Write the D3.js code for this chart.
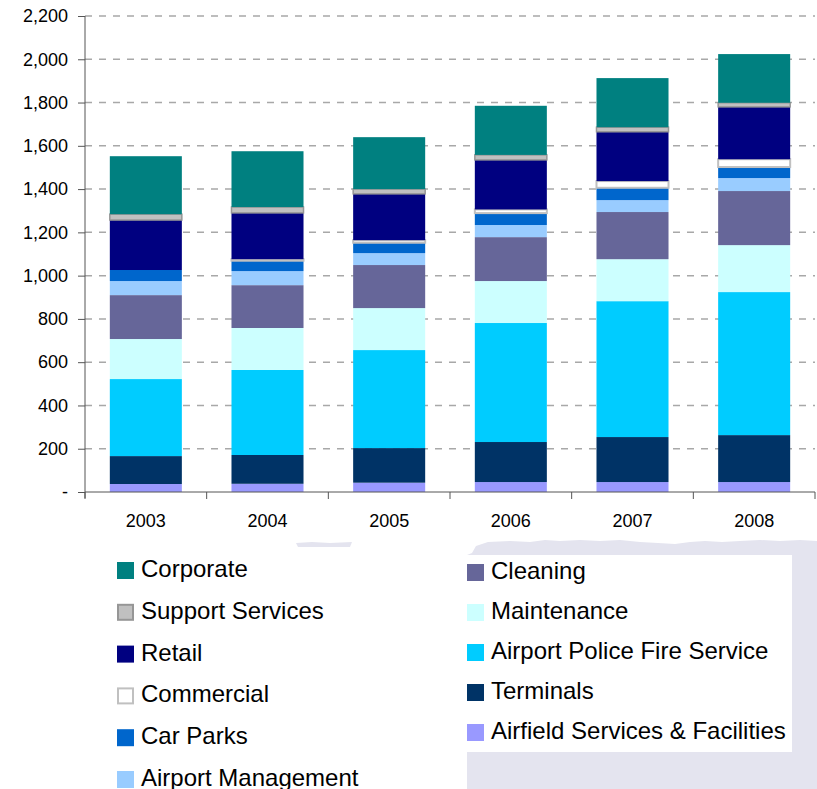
<!DOCTYPE html>
<html>
<head>
<meta charset="utf-8">
<script src="https://cdn.jsdelivr.net/npm/d3@7"></script>
<style>
  body { margin: 0; background: #fff; }
  svg text { font-family: "Liberation Sans", Arial, sans-serif; fill: #000; }
</style>
</head>
<body>
<svg id="chart" width="817" height="789"></svg>
<script>
// Years on the category axis
const years = ["2003", "2004", "2005", "2006", "2007", "2008"];

// Cost per business unit, stacked bottom to top
const airfield    = [37, 38, 43, 46, 46, 46];
const terminals   = [129, 133, 160, 185, 208, 217];
const policeFire  = [356, 393, 453, 550, 628, 661];
const maintenance = [185, 194, 194, 194, 194, 217];
const cleaning    = [203, 198, 199, 203, 218, 250];
const airportMgmt = [65, 65, 55, 56, 55, 60];
const carParks    = [51, 48, 48, 55, 57, 51];
const commercial  = [0, 7, 12, 17, 31, 36];
const retail      = [231, 214, 214, 229, 228, 242];
const support     = [27, 27, 22, 23, 21, 19];
const corporate   = [268, 258, 240, 227, 227, 225];

const yTicks = [0, 200, 400, 600, 800, 1000, 1200, 1400, 1600, 1800, 2000, 2200];

// Series in stacking order (bottom first)
const series = [
  { key: "Airfield Services & Facilities", values: airfield,    fill: "#9999ff" },
  { key: "Terminals",                      values: terminals,   fill: "#003366" },
  { key: "Airport Police Fire Service",    values: policeFire,  fill: "#00ccff" },
  { key: "Maintenance",                    values: maintenance, fill: "#ccffff" },
  { key: "Cleaning",                       values: cleaning,    fill: "#666699" },
  { key: "Airport Management",             values: airportMgmt, fill: "#99ccff" },
  { key: "Car Parks",                      values: carParks,    fill: "#0066cc" },
  { key: "Commercial",                     values: commercial,  fill: "#ffffff", stroke: "#c0c0c0", sw: 2 },
  { key: "Retail",                         values: retail,      fill: "#000080" },
  { key: "Support Services",               values: support,     fill: "#c0c0c0", stroke: "#969696", sw: 1.5 },
  { key: "Corporate",                      values: corporate,   fill: "#008080" }
];

// Legend columns, top to bottom
const legendLeft  = ["Corporate", "Support Services", "Retail", "Commercial", "Car Parks", "Airport Management"];
const legendRight = ["Cleaning", "Maintenance", "Airport Police Fire Service", "Terminals", "Airfield Services & Facilities"];

const svg = d3.select("#chart");
const byKey = Object.fromEntries(series.map(s => [s.key, s]));

// Pale backdrop behind the right legend column (fragment of a map graphic)
const bg = "#e4e4ef";
svg.append("path")
  .attr("fill", bg)
  .attr("d", "M296,543 L312,542 L330,543 L352,542 L350,547 L320,547 L298,547 Z");
svg.append("path")
  .attr("fill", bg)
  .attr("d", "M476,546 L488,542 L510,541 L530,542 L545,540 L560,541 L580,540 L600,541 L620,540 L640,542 L658,543 L675,544 L690,542 L705,541 L722,542 L740,541 L760,540 L780,541 L800,540 L817,541 L817,789 L467,789 L467,555 L472,553 Z");
svg.append("rect").attr("x", 467).attr("y", 555).attr("width", 325).attr("height", 197).attr("fill", "#fff");

// Scales
const x = d3.scaleBand().domain(years).range([85, 815]).paddingInner(0.408).paddingOuter(0.204);
const y = d3.scaleLinear().domain([0, 2200]).range([492, 16]);

// Gridlines
svg.append("g").selectAll("line").data(yTicks.filter(d => d > 0)).join("line")
  .attr("x1", 85).attr("x2", 815)
  .attr("y1", d => y(d)).attr("y2", d => y(d))
  .attr("stroke", "#a8a8a8").attr("stroke-width", 1.5).attr("stroke-dasharray", "7,7");

// Stacked bars
const table = years.map((yr, i) => {
  const row = { year: yr };
  series.forEach(s => row[s.key] = s.values[i]);
  return row;
});
const stacked = d3.stack().keys(series.map(s => s.key))(table);

const layers = svg.append("g").selectAll("g").data(stacked).join("g")
  .attr("fill", d => byKey[d.key].fill)
  .attr("stroke", d => byKey[d.key].stroke || "none")
  .attr("stroke-width", d => byKey[d.key].sw || 0);
layers.selectAll("rect").data(d => d.filter(p => p[1] - p[0] > 0)).join("rect")
  .attr("x", d => x(d.data.year))
  .attr("width", x.bandwidth())
  .attr("y", d => y(d[1]))
  .attr("height", d => y(d[0]) - y(d[1]));

// Y axis
const yAxis = svg.append("g").attr("transform", "translate(85,0)")
  .call(d3.axisLeft(y).tickValues(yTicks).tickSize(7).tickPadding(10)
    .tickFormat(d => d === 0 ? "-" : d3.format(",")(d)));
yAxis.select(".domain").attr("d", "M0,16V498").attr("stroke", "#555");
yAxis.selectAll(".tick line").attr("stroke", "#555");
yAxis.selectAll(".tick text").attr("font-size", 18).style("font-family", "Liberation Sans, Arial, sans-serif").attr("fill", "#000");

// X axis: labels centred under bars, ticks at category boundaries
const xAxis = svg.append("g").attr("transform", "translate(0,492)")
  .call(d3.axisBottom(x).tickSize(0).tickPadding(22));
xAxis.select(".domain").attr("d", "M85,0H815").attr("stroke", "#555");
xAxis.selectAll(".tick text").attr("font-size", 18).style("font-family", "Liberation Sans, Arial, sans-serif").attr("fill", "#000");
const half = (x.step() - x.bandwidth()) / 2;
const bounds = years.map(yr => x(yr) - half).concat([x(years[years.length - 1]) + x.bandwidth() + half]);
xAxis.append("g").selectAll("line").data(bounds).join("line")
  .attr("x1", d => d).attr("x2", d => d).attr("y1", 0).attr("y2", 7)
  .attr("stroke", "#555");

// Legend
function legendColumn(names, x0, y0, step) {
  const g = svg.append("g");
  const item = g.selectAll("g").data(names).join("g")
    .attr("transform", (d, i) => `translate(${x0},${y0 + i * step})`);
  item.append("rect")
    .attr("x", d => byKey[d].stroke ? 1 : 0)
    .attr("y", d => byKey[d].stroke ? 1 : 0)
    .attr("width", d => byKey[d].stroke ? 15 : 17)
    .attr("height", d => byKey[d].stroke ? 15 : 17)
    .attr("fill", d => byKey[d].fill)
    .attr("stroke", d => byKey[d].stroke || "none")
    .attr("stroke-width", 2);
  item.append("text")
    .attr("x", 24).attr("y", 15)
    .attr("font-size", 24)
    .text(d => d);
}
legendColumn(legendLeft, 117, 562, 41.8);
legendColumn(legendRight, 467, 564, 40);
</script>
</body>
</html>
